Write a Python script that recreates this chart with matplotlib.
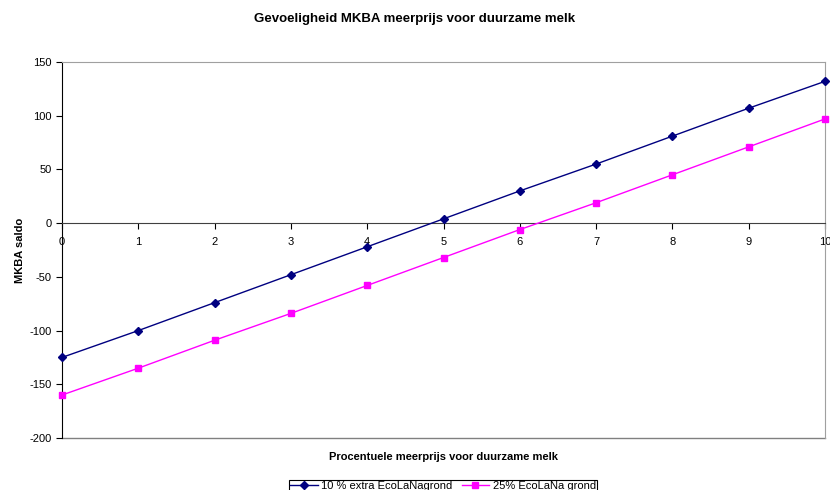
import matplotlib
matplotlib.use("Agg")
import matplotlib.pyplot as plt

plt.rcParams['font.family'] = ['Liberation Sans', 'DejaVu Sans']
plt.rcParams['axes.unicode_minus'] = False

x_vals = [0, 1, 2, 3, 4, 5, 6, 7, 8, 9, 10]
serie_10 = [-125, -100, -74, -48, -22, 4, 30, 55, 81, 107, 132]
serie_25 = [-160, -135, -109, -84, -58, -32, -6, 19, 45, 71, 97]
label_10 = "10 % extra EcoLaNagrond"
label_25 = "25% EcoLaNa grond"
y_ticks = [-200, -150, -100, -50, 0, 50, 100, 150]

fig = plt.figure(figsize=(8.3, 4.9), dpi=100)
ax = fig.add_axes([62/830, 1-438/490, (825-62)/830, (438-62)/490])

ax.plot(x_vals, serie_10, color='#000080', marker='D', markersize=4.5, linewidth=1, label=label_10, clip_on=False, zorder=3)
ax.plot(x_vals, serie_25, color='#FF00FF', marker='s', markersize=5, linewidth=1, label=label_25, clip_on=False, zorder=3)

ax.set_xlim(0, 10)
ax.set_ylim(-200, 150)
ax.set_yticks(y_ticks)
ax.set_xticks(x_vals)

ax.spines['bottom'].set_position(('data', 0))
ax.spines['bottom'].set_color('#404040')
ax.spines['left'].set_color('black')
ax.spines['top'].set_color('#a0a0a0')
ax.spines['right'].set_color('#a0a0a0')
ax.axhline(-200, color='#808080', linewidth=1, clip_on=False, zorder=1)

ax.tick_params(axis='both', direction='out', length=4, labelsize=8, colors='black')
ax.tick_params(axis='x', pad=6)

fig.suptitle("Gevoeligheid MKBA meerprijs voor duurzame melk", fontsize=9.5, fontweight='bold',
             x=0.5, y=1-19/490, va='center')
ax.set_ylabel("MKBA saldo", fontsize=8, fontweight='bold')
ax.yaxis.set_label_coords((25-62)/763, 0.5)
fig.text(443/830, 1-457/490, "Procentuele meerprijs voor duurzame melk", fontsize=8, fontweight='bold', ha='center', va='center')

leg = fig.legend(loc='upper center', bbox_to_anchor=(443/830, 1-474/490), ncol=2, fontsize=8,
                 frameon=True, fancybox=False, edgecolor='black', framealpha=1,
                 handlelength=2.5, columnspacing=0.8, handletextpad=0.3, borderpad=0.12)
leg.get_frame().set_linewidth(0.8)

fig.savefig("out.png", dpi=100)
